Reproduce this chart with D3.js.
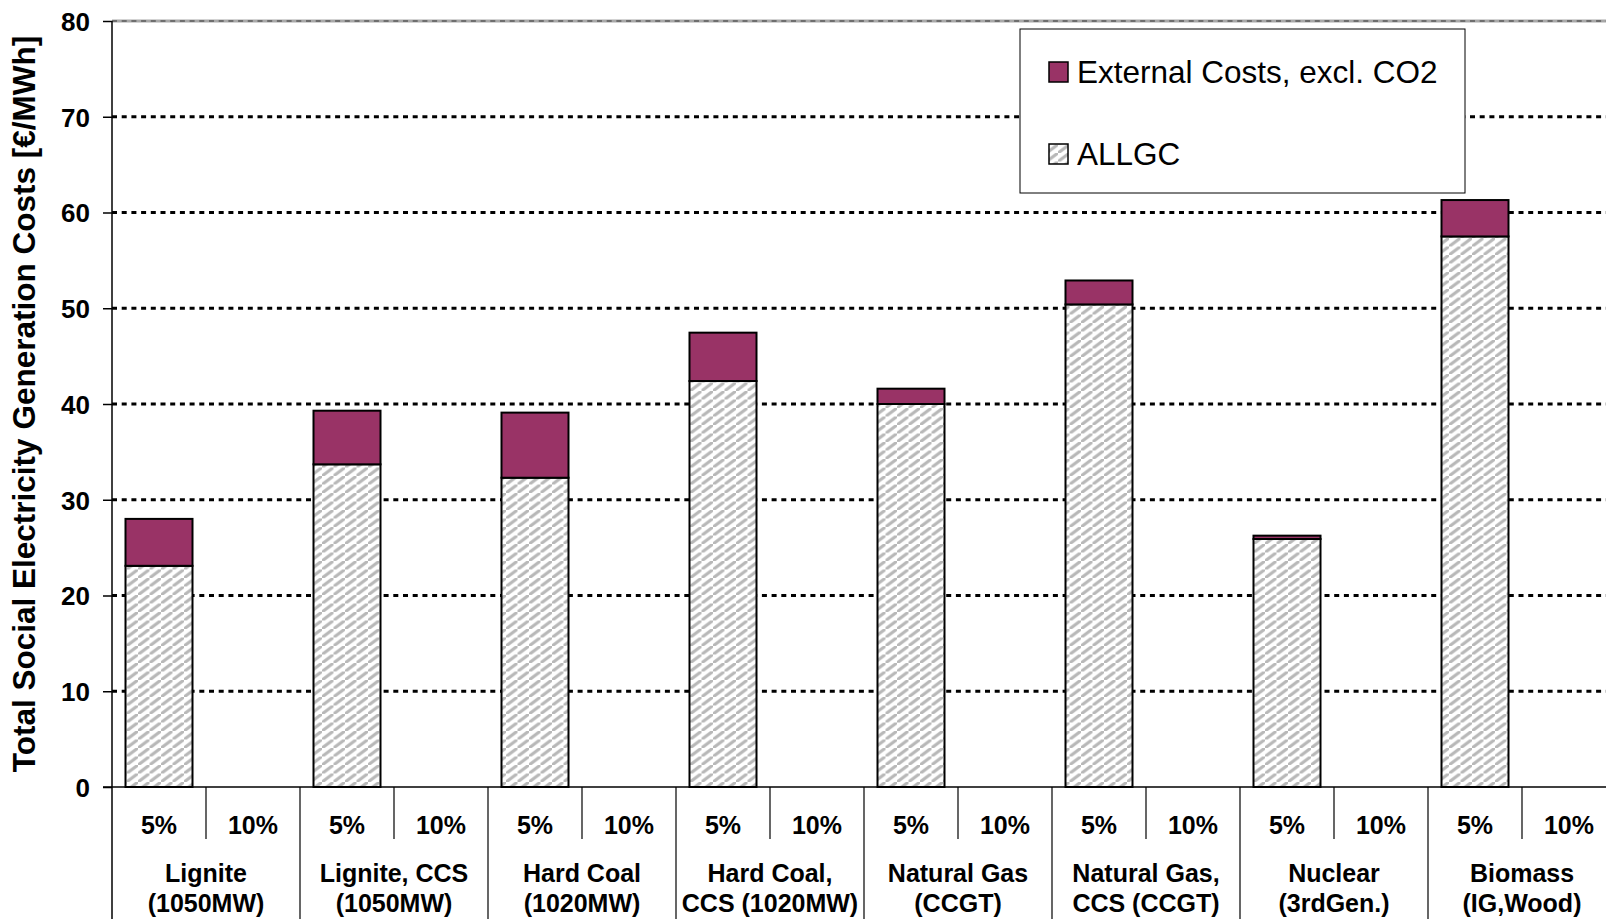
<!DOCTYPE html>
<html>
<head>
<meta charset="utf-8">
<script src="https://cdn.jsdelivr.net/npm/d3@7"></script>
<style>
  html, body { margin: 0; padding: 0; background: #fff; }
  svg { display: block; }
  text { font-family: "Liberation Sans", Arial, Helvetica, sans-serif; }
</style>
</head>
<body>
<svg id="chart" width="1606" height="919"></svg>
<script>
// ---- data ----
const categories = [
  "Lignite\n(1050MW)",
  "Lignite, CCS\n(1050MW)",
  "Hard Coal\n(1020MW)",
  "Hard Coal,\nCCS (1020MW)",
  "Natural Gas\n(CCGT)",
  "Natural Gas,\nCCS (CCGT)",
  "Nuclear\n(3rdGen.)",
  "Biomass\n(IG,Wood)"
];
const rates = ["5%", "10%"];
const allgc5 = [23.1, 33.7, 32.3, 42.4, 40.0, 50.4, 25.9, 57.5];
const external5 = [4.9, 5.6, 6.8, 5.05, 1.6, 2.5, 0.35, 3.8];
const allgc10 = [null, null, null, null, null, null, null, null];
const external10 = [null, null, null, null, null, null, null, null];
const yTicks = [0, 10, 20, 30, 40, 50, 60, 70, 80];
const seriesNames = ["External Costs, excl. CO2", "ALLGC"];
const yTitle = "Total Social Electricity Generation Costs [€/MWh]";

// ---- layout ----
const svg = d3.select("#chart");
const plotLeft = 112, plotTop = 21, plotBottom = 787, slotW = 94;
const FONT = '"Liberation Sans", Arial, Helvetica, sans-serif';
const extColor = "#993366";

const slots = [];
categories.forEach((c, i) => rates.forEach((r, j) => slots.push({cat: i, rate: j, key: i + "_" + j})));

const x = d3.scaleBand()
  .domain(slots.map(d => d.key))
  .range([plotLeft, plotLeft + slots.length * slotW])
  .paddingInner(0).paddingOuter(0);
const y = d3.scaleLinear().domain([0, 80]).range([plotBottom, plotTop]);

// pattern
const defs = svg.append("defs");
const pw = 11.5, ph = 8.5;
const pat = defs.append("pattern")
  .attr("id", "hatch").attr("patternUnits", "userSpaceOnUse")
  .attr("width", pw).attr("height", ph);
pat.append("rect").attr("width", pw).attr("height", ph).attr("fill", "#fff");
pat.append("path")
  .attr("d", `M${-pw},${2*ph} L${2*pw},${-ph}`)
  .attr("stroke", "#b8b8b8").attr("stroke-width", 3.2);

// gridlines
const gridVals = yTicks.filter(v => v > 0 && v < 80);
svg.append("g").selectAll("line").data(gridVals).join("line")
  .attr("x1", plotLeft).attr("x2", 1606)
  .attr("y1", d => y(d)).attr("y2", d => y(d))
  .attr("stroke", "#000").attr("stroke-width", 2.8)
  .attr("stroke-dasharray", "5,4.7");
// top border line (80)
svg.append("line").attr("x1", plotLeft).attr("x2", 1606).attr("y1", y(80)).attr("y2", y(80))
  .attr("stroke", "#a8a8a8").attr("stroke-width", 3);
svg.append("line").attr("x1", plotLeft).attr("x2", 1606).attr("y1", y(80)).attr("y2", y(80))
  .attr("stroke", "#6e6e6e").attr("stroke-width", 2).attr("stroke-dasharray", "5,4.7");

// bars
const barW = 67;
const barData = [];
categories.forEach((c, i) => {
  [[allgc5, external5], [allgc10, external10]].forEach((pair, j) => {
    const a = pair[0][i], e = pair[1][i];
    if (a == null) return;
    barData.push({key: i + "_" + j, y0: 0, y1: a, type: "allgc"});
    barData.push({key: i + "_" + j, y0: a, y1: a + e, type: "ext"});
  });
});
svg.append("g").selectAll("rect").data(barData).join("rect")
  .attr("x", d => x(d.key) + (x.bandwidth() - barW) / 2)
  .attr("width", barW)
  .attr("y", d => y(d.y1))
  .attr("height", d => y(d.y0) - y(d.y1))
  .attr("fill", d => d.type === "ext" ? extColor : "url(#hatch)")
  .attr("stroke", "#000").attr("stroke-width", 2);

// y axis
const yAxis = d3.axisLeft(y).tickValues(yTicks).tickSize(9).tickPadding(13).tickFormat(d3.format("d"));
const gy = svg.append("g").attr("transform", `translate(${plotLeft},0)`).call(yAxis);
gy.select(".domain").remove();
gy.selectAll(".tick line").attr("stroke", "#000").attr("stroke-width", 1.5);
gy.selectAll(".tick text").attr("font-family", FONT).attr("font-size", 26)
  .attr("font-weight", "bold").attr("fill", "#000").attr("dy", "0.36em");
svg.append("line").attr("x1", plotLeft).attr("x2", plotLeft).attr("y1", plotTop).attr("y2", 919)
  .attr("stroke", "#000").attr("stroke-width", 1.5);

// x axis baseline
svg.append("line").attr("x1", plotLeft - 9).attr("x2", 1606).attr("y1", plotBottom).attr("y2", plotBottom)
  .attr("stroke", "#000").attr("stroke-width", 1.5);

// separators
const gx = svg.append("g");
categories.forEach((c, i) => {
  const gx0 = x(i + "_0");
  if (i > 0) gx.append("line").attr("x1", gx0).attr("x2", gx0).attr("y1", plotBottom).attr("y2", 919)
    .attr("stroke", "#000").attr("stroke-width", 1.2);
  const sx = x(i + "_1");
  gx.append("line").attr("x1", sx).attr("x2", sx).attr("y1", plotBottom).attr("y2", 839)
    .attr("stroke", "#000").attr("stroke-width", 1.2);
});
// rate labels
gx.selectAll("text.rate").data(slots).join("text").attr("class", "rate")
  .attr("x", d => x(d.key) + x.bandwidth() / 2).attr("y", 834)
  .attr("text-anchor", "middle").attr("font-size", 25).attr("font-weight", "bold")
  .text(d => rates[d.rate]);
// category labels
categories.forEach((c, i) => {
  const cx = x(i + "_0") + slotW;
  const lines = c.split("\n");
  const t = gx.append("text").attr("text-anchor", "middle").attr("font-size", 25).attr("font-weight", "bold");
  lines.forEach((ln, k) => t.append("tspan").attr("x", cx).attr("y", 882 + k * 30).text(ln));
});

// y title
svg.append("text").attr("transform", "translate(35,404) rotate(-90)")
  .attr("text-anchor", "middle").attr("font-size", 31.5).attr("font-weight", "bold")
  .text(yTitle);

// legend
const lg = svg.append("g");
lg.append("rect").attr("x", 1020).attr("y", 29).attr("width", 445).attr("height", 164)
  .attr("fill", "#fff").attr("stroke", "#000").attr("stroke-width", 1);
const legendFills = [extColor, "url(#hatch)"];
const legendY = [62, 144];
seriesNames.forEach((n, k) => {
  lg.append("rect").attr("x", 1049).attr("y", legendY[k]).attr("width", 19).attr("height", 20)
    .attr("fill", legendFills[k]).attr("stroke", "#000").attr("stroke-width", 1.5);
  lg.append("text").attr("x", 1077).attr("y", legendY[k] + 21).attr("font-size", 31.5)
    .text(n);
});
</script>
</body>
</html>
